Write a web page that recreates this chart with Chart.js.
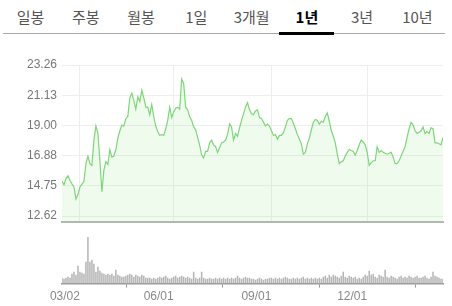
<!DOCTYPE html>
<html>
<head>
<meta charset="utf-8">
<script src="https://cdn.jsdelivr.net/npm/chart.js@4"></script>
<style>
  body { margin: 0; background: #fff; width: 452px; height: 306px; overflow: hidden; position: relative; font-family: "Noto Sans CJK KR", sans-serif; }
  #tabs { position: absolute; left: 3px; top: 0; width: 442px; height: 33px; border-bottom: 1px solid #aaa; display: flex; }
  .tab { flex: 1; text-align: center; line-height: 34px; font-size: 15px; color: #555; position: relative; }
  .tab.on { color: #000; font-weight: bold; }
  .tab.on::after { content: ""; position: absolute; left: 0; right: 1px; bottom: -2px; height: 3px; background: #000; }
  #priceBox { position: absolute; left: 0; top: 40px; width: 452px; height: 194px; }
  #volBox { position: absolute; left: 0; top: 234px; width: 452px; height: 72px; }
</style>
</head>
<body>
<div id="tabs"></div>
<div id="priceBox"><canvas id="priceChart"></canvas></div>
<div id="volBox"><canvas id="volChart"></canvas></div>
<script>
// ---- data ----
const tabLabels = ['일봉', '주봉', '월봉', '1일', '3개월', '1년', '3년', '10년'];
const activeTab = '1년';

const priceTicks = [12.62, 14.75, 16.88, 19.00, 21.13, 23.26];
const dateTickIdx = [9, 56, 105, 153];
const dateTickLabels = ['03/02', '06/01', '09/01', '12/01'];

const prices = [
  15.07, 14.83, 15.26, 15.46, 15.13, 14.89, 14.67, 13.81, 14.14, 14.67,
  14.87, 15.07, 16.32, 16.85, 16.32, 16.19, 17.97, 18.96, 18.44, 16.52,
  14.34, 15.86, 16.45, 16.26, 17.31, 16.78, 16.85, 17.31, 18.11, 18.63,
  19.03, 18.96, 19.49, 19.63, 20.95, 21.28, 20.75, 20.15, 21.02, 20.68,
  21.48, 20.95, 20.29, 20.29, 19.76, 20.48, 19.63, 18.96, 18.57, 18.30,
  18.37, 18.30, 18.77, 19.36, 20.29, 19.56, 19.96, 20.22, 20.29, 20.15,
  22.27, 21.94, 20.29, 20.10, 19.63, 19.36, 18.90, 18.70, 18.17, 17.64,
  16.92, 16.72, 17.18, 17.18, 17.78, 17.97, 17.64, 17.51, 17.11, 17.44,
  17.78, 17.84, 17.97, 18.37, 19.10, 18.90, 17.97, 18.44, 18.24, 18.83,
  19.36, 19.82, 20.29, 20.62, 20.10, 19.82, 19.76, 20.02, 20.10, 19.56,
  19.49, 19.23, 18.96, 19.10, 18.96, 18.63, 18.30, 18.37, 18.04, 18.30,
  18.30, 18.50, 18.90, 19.36, 19.49, 19.49, 19.16, 18.77, 18.37, 18.04,
  17.71, 16.98, 17.11, 17.71, 18.11, 18.70, 19.23, 19.43, 19.36, 19.10,
  19.30, 19.23, 19.63, 19.89, 19.30, 18.63, 18.24, 17.78, 16.98, 16.32,
  16.45, 16.52, 16.85, 17.11, 17.31, 17.24, 17.18, 16.92, 17.24, 17.64,
  17.97, 17.84, 17.64, 17.11, 16.19, 16.39, 16.52, 16.52, 17.51, 17.11,
  17.24, 17.11, 17.05, 16.98, 17.05, 17.11, 16.78, 16.32, 16.32, 16.52,
  16.85, 17.18, 17.51, 18.17, 18.77, 19.23, 19.03, 18.63, 18.44, 18.50,
  18.63, 18.90, 18.44, 18.57, 18.44, 18.83, 18.77, 17.78, 17.78, 17.71,
  17.64, 18.17
];

const volumes = [
  6, 5, 6, 7, 6, 10, 12, 9, 18, 12,
  11, 10, 22, 47, 22, 24, 20, 12, 17, 13,
  11, 10, 9, 10, 9, 10, 8, 14, 9, 8,
  7, 7, 8, 9, 10, 9, 7, 9, 8, 7,
  9, 8, 6, 6, 6, 5, 6, 5, 6, 7,
  6, 7, 8, 6, 5, 6, 7, 8, 6, 7,
  8, 7, 6, 7, 6, 5, 12, 6, 5, 6,
  12, 6, 5, 5, 6, 5, 5, 6, 5, 6,
  5, 6, 5, 6, 5, 6, 5, 6, 8, 6,
  5, 6, 7, 6, 6, 5, 5, 4, 5, 6,
  5, 4, 5, 5, 6, 6, 5, 6, 5, 6,
  5, 6, 7, 6, 5, 5, 6, 5, 6, 5,
  6, 7, 5, 6, 5, 6, 5, 6, 5, 6,
  5, 7, 8, 6, 9, 7, 9, 8, 7, 6,
  8, 12, 7, 6, 8, 7, 6, 7, 5, 6,
  5, 7, 9, 8, 13, 9, 10, 7, 6, 9,
  8, 7, 14, 7, 6, 8, 7, 6, 5, 7,
  8, 6, 7, 6, 8, 7, 6, 7, 8, 6,
  6, 7, 8, 6, 5, 7, 12, 8, 7, 6,
  5, 5
];

// ---- tabs ----
const tabs = document.getElementById('tabs');
tabLabels.forEach((t) => {
  const d = document.createElement('div');
  d.className = 'tab' + (t === activeTab ? ' on' : '');
  d.textContent = t;
  tabs.appendChild(d);
});

const lastIdx = prices.length - 1;
const numFont = { family: 'Liberation Sans, Arial, sans-serif', size: 12 };

// ---- price chart ----
new Chart(document.getElementById('priceChart'), {
  type: 'line',
  data: {
    datasets: [{
      data: prices.map((v, i) => ({ x: i, y: v })),
      borderColor: '#7fd57a',
      borderWidth: 1.2,
      backgroundColor: 'rgba(150, 230, 140, 0.16)',
      fill: 'start',
      pointRadius: 0,
      tension: 0,
    }],
  },
  options: {
    responsive: true,
    maintainAspectRatio: false,
    animation: false,
    layout: { padding: { top: 25, right: 9, bottom: 2, left: 0 } },
    plugins: { legend: { display: false }, tooltip: { enabled: false } },
    scales: {
      x: {
        type: 'linear',
        min: 0,
        max: lastIdx,
        afterBuildTicks: (s) => { s.ticks = dateTickIdx.map((v) => ({ value: v })); },
        ticks: { display: false },
        grid: { color: '#eeeeee', drawTicks: false },
        border: { color: '#b5b5b5', width: 2 },
      },
      y: {
        min: 12.22,
        max: 23.26,
        afterBuildTicks: (s) => { s.ticks = priceTicks.map((v) => ({ value: v })); },
        afterFit: (s) => { s.width = 62; },
        ticks: { color: '#777', font: numFont, padding: 5, callback: (v) => v.toFixed(2) },
        grid: { color: '#eeeeee', drawTicks: false },
        border: { display: false },
      },
    },
  },
});

// ---- volume chart ----
new Chart(document.getElementById('volChart'), {
  type: 'bar',
  data: {
    datasets: [{
      data: volumes.map((v, i) => ({ x: i, y: v })),
      backgroundColor: '#b4b4b4',
      barPercentage: 0.75,
      categoryPercentage: 1,
    }],
  },
  options: {
    responsive: true,
    maintainAspectRatio: false,
    animation: false,
    layout: { padding: { top: 2, right: 9, bottom: 0, left: 62 } },
    plugins: { legend: { display: false }, tooltip: { enabled: false } },
    scales: {
      x: {
        type: 'linear',
        min: 0,
        max: lastIdx,
        offset: false,
        afterBuildTicks: (s) => { s.ticks = dateTickIdx.map((v) => ({ value: v })); },
        ticks: {
          autoSkip: false,
          maxRotation: 0,
          align: 'end',
          color: '#888',
          font: numFont,
          padding: 2,
          callback: (v) => dateTickLabels[dateTickIdx.indexOf(v)],
        },
        grid: { drawOnChartArea: false, drawTicks: true, tickLength: 4, color: '#999' },
        border: { color: '#999', width: 1.5 },
      },
      y: {
        display: false,
        min: 0,
        max: 48,
      },
    },
  },
});
</script>
</body>
</html>
